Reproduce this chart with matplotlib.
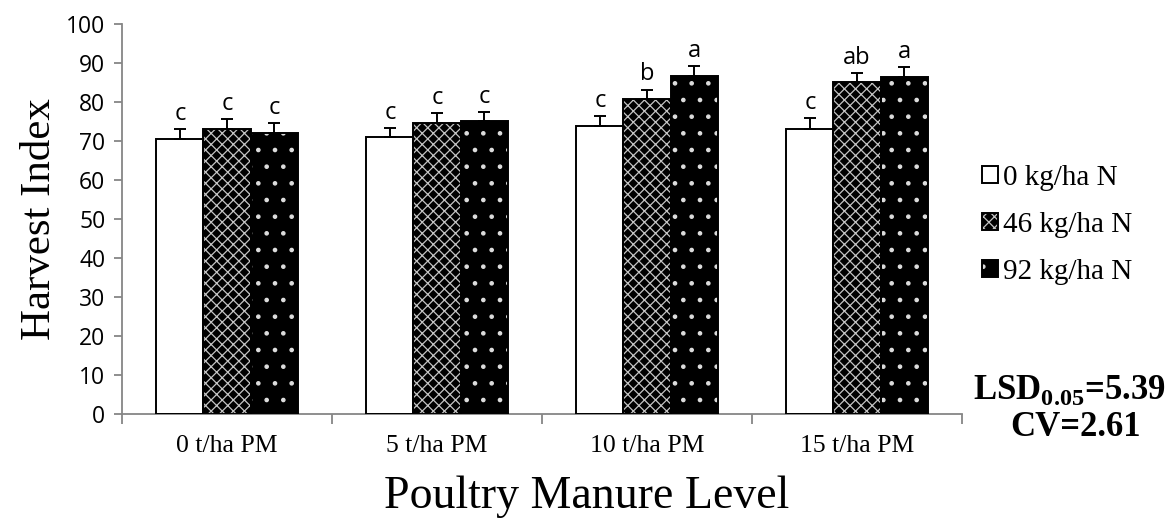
import numpy as np
import matplotlib.pyplot as plt
from matplotlib.legend_handler import HandlerTuple

groups = ["0 t/ha PM", "5 t/ha PM", "10 t/ha PM", "15 t/ha PM"]
series = ["0 kg/ha N", "46 kg/ha N", "92 kg/ha N"]
hi_0n = [70.4, 70.9, 73.9, 73.2]
hi_46n = [73.0, 74.7, 80.7, 85.0]
hi_92n = [72.1, 75.0, 86.7, 86.3]
err_0n = [2.6, 2.5, 2.6, 2.6]
err_46n = [2.6, 2.4, 2.5, 2.5]
err_92n = [2.4, 2.4, 2.6, 2.6]
let_0n = ["c", "c", "c", "c"]
let_46n = ["c", "c", "b", "ab"]
let_92n = ["c", "c", "a", "a"]

serif = "Liberation Serif"
sans = "Open Sans"

plt.rcParams["mathtext.fontset"] = "custom"
plt.rcParams["mathtext.rm"] = "Liberation Serif:bold"
plt.rcParams["hatch.linewidth"] = 0.9

fig = plt.figure(figsize=(11.76, 5.18), dpi=100)
ax = fig.add_axes([122/1176, 104/518, 840/1176, 390/518])

x = np.arange(len(groups)) + 0.5
w = 0.224
vals = [hi_0n, hi_46n, hi_92n]
errs = [err_0n, err_46n, err_92n]
lets = [let_0n, let_46n, let_92n]
styles = [dict(facecolor="white", hatch=None, hcolor=None),
          dict(facecolor="black", hatch="xxx", hcolor="#c4c4c4"),
          dict(facecolor="black", hatch=".", hcolor="#dddddd")]

handles = []
for i in range(3):
    pos = x + (i - 1) * w
    st = styles[i]
    if st["hatch"]:
        fill = ax.bar(pos, vals[i], w, color=st["facecolor"], edgecolor=st["hcolor"],
                      hatch=st["hatch"], linewidth=0, zorder=2)
    else:
        fill = ax.bar(pos, vals[i], w, color="white", linewidth=0, zorder=2)
    outline = ax.bar(pos, vals[i], w, fill=False, edgecolor="black",
                     linewidth=1.4, zorder=3)
    ax.errorbar(pos, vals[i], yerr=[np.zeros(4), errs[i]], fmt="none",
                ecolor="black", elinewidth=1.4, capsize=4.5, capthick=1.4, zorder=4)
    for p, v, e, l in zip(pos, vals[i], errs[i], lets[i]):
        ax.text(p, v + e + 0.8, l, ha="center", va="bottom", fontsize=17,
                family=sans, color="black")
    handles.append((fill.patches[0], outline.patches[0]))

ax.set_xlim(0, 4)
ax.set_ylim(0, 100)
ax.set_yticks(np.arange(0, 101, 10))
ax.set_xticks(np.arange(0, 5))
ax.set_xticklabels([])
ax.set_xticks(x, minor=True)
ax.set_xticklabels(groups, minor=True, fontsize=18.5, family=serif)
ax.tick_params(axis="x", which="minor", length=0, pad=15)
ax.tick_params(axis="x", which="major", length=7, color="#868686", width=1.3)
ax.tick_params(axis="y", length=6, color="#868686", width=1.3, pad=6)
for t in ax.get_yticklabels():
    t.set_fontsize(16.5)
    t.set_family(sans)
for s in ["top", "right"]:
    ax.spines[s].set_visible(False)
for s in ["left", "bottom"]:
    ax.spines[s].set_color("#868686")
    ax.spines[s].set_linewidth(1.3)

fig.text(40/1176, 1 - 219/518, "Harvest Index", rotation=90, ha="center",
         va="center", fontsize=31, family=serif)
fig.text(587/1176, 1 - 497/518, "Poultry Manure Level", ha="center",
         va="center", fontsize=33, family=serif)

fig.legend(handles, series, loc="center left", bbox_to_anchor=(956/1176, 1 - 225/518),
           frameon=False, prop={"family": serif, "size": 21}, handlelength=0.55,
           handleheight=0.55, handletextpad=0.15, labelspacing=0.72,
           handler_map={tuple: HandlerTuple(ndivide=1, pad=0)})

fig.text(1069/1176, 1 - 390/518, r"LSD$_{0.05}$=5.39", ha="center",
         va="center", fontsize=25, family=serif, fontweight="bold")
fig.text(1075/1176, 1 - 428/518, "CV=2.61", ha="center",
         va="center", fontsize=25, family=serif, fontweight="bold")

fig.savefig("out.png", dpi=100)
